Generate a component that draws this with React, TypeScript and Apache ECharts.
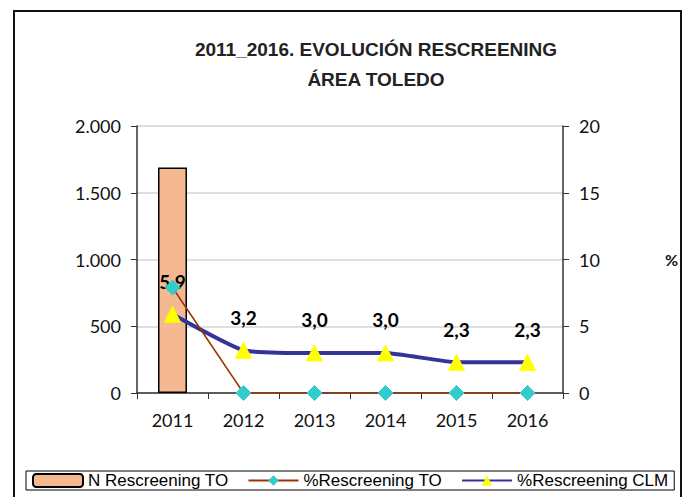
import React, { useEffect, useRef } from "react";
import * as echarts from "echarts";

const years = ["2011", "2012", "2013", "2014", "2015", "2016"];
const nRescreeningTO = [1690, null, null, null, null, null];
const pctRescreeningTO = [7.9, 0, 0, 0, 0, 0];
const pctRescreeningCLM = [5.9, 3.2, 3.0, 3.0, 2.3, 2.3];
const leftTicks = { min: 0, max: 2000, interval: 500 };
const rightTicks = { min: 0, max: 20, interval: 5 };

const labelFont = "Lato, 'Noto Sans', sans-serif";
const arialFont = "'Liberation Sans Narrow', 'Liberation Sans', Arial, sans-serif";

export default function App() {
  const ref = useRef<HTMLDivElement>(null);
  useEffect(() => {
    if (!ref.current) return;
    const chart = echarts.init(ref.current, null, { renderer: "svg" });
    chart.setOption({
      animation: false,
      backgroundColor: "#ffffff",
      title: {
        text: "2011_2016. EVOLUCIÓN RESCREENING\nÁREA TOLEDO",
        left: 371,
        textAlign: "center",
        top: 29,
        textStyle: {
          fontFamily: arialFont,
          fontWeight: "bold",
          fontSize: 19,
          lineHeight: 30,
          color: "#222",
        },
      },
      graphic: [
        {
          type: "rect",
          shape: { x: 14, y: 11, width: 667, height: 500 },
          style: { fill: "none", stroke: "#111", lineWidth: 2 },
          silent: true,
        },
      ],
      legend: {
        data: ["N Rescreening TO", "%Rescreening TO", "%Rescreening CLM"],
        left: 26,
        top: 471,
        itemWidth: 50,
        itemHeight: 13,
        itemGap: 19,
        padding: [1, 6, 1, 6],
        borderColor: "#000",
        borderWidth: 1,
        textStyle: { fontFamily: arialFont, fontSize: 17, color: "#000" },
      },
      grid: { left: 137, right: 134, top: 126, bottom: 104, containLabel: false },
      xAxis: {
        type: "category",
        data: years,
        boundaryGap: true,
        axisLine: { lineStyle: { color: "#333", width: 1.5 } },
        axisTick: { show: true, length: 6, lineStyle: { color: "#333" } },
        axisLabel: { fontFamily: labelFont, fontSize: 18, color: "#111", margin: 18 },
      },
      yAxis: [
        {
          type: "value",
          ...leftTicks,
          position: "left",
          axisLine: { show: true, lineStyle: { color: "#333", width: 1.5 } },
          axisTick: { show: true, length: 6, lineStyle: { color: "#333" } },
          splitLine: { show: true, lineStyle: { color: "#d4d4d4", width: 1.5 } },
          axisLabel: {
            fontFamily: labelFont,
            fontSize: 18,
            color: "#111",
            margin: 16,
            formatter: (v: number) => v.toLocaleString("de-DE"),
          },
        },
        {
          type: "value",
          ...rightTicks,
          position: "right",
          name: "%",
          nameLocation: "middle",
          nameRotate: 0,
          nameGap: 102,
          nameTextStyle: { fontFamily: labelFont, fontSize: 16, fontWeight: "bold", color: "#111", padding: [8, 0, 0, 0] },
          axisLine: { show: true, lineStyle: { color: "#333", width: 1.5 } },
          axisTick: { show: true, length: 6, lineStyle: { color: "#333" } },
          splitLine: { show: false },
          axisLabel: { fontFamily: labelFont, fontSize: 18, color: "#111", margin: 16 },
        },
      ],
      series: [
        {
          name: "N Rescreening TO",
          type: "bar",
          yAxisIndex: 0,
          data: nRescreeningTO,
          barWidth: 29,
          z: 1,
          itemStyle: { color: "#F4B990", borderColor: "#000", borderWidth: 1.5 },
        },
        {
          name: "%Rescreening CLM",
          type: "line",
          yAxisIndex: 1,
          data: pctRescreeningCLM,
          smooth: 0.15,
          symbol: "triangle",
          symbolSize: 16,
          z: 3,
          lineStyle: { color: "#333399", width: 4 },
          itemStyle: { color: "#FFFF00", borderColor: "#FFFF00" },
          label: {
            show: true,
            position: "top",
            distance: 15,
            fontFamily: labelFont,
            fontSize: 19,
            fontWeight: "bold",
            color: "#000",
            formatter: (p: any) => Number(p.value).toFixed(1).replace(".", ","),
          },
        },
        {
          name: "%Rescreening TO",
          type: "line",
          yAxisIndex: 1,
          data: pctRescreeningTO,
          symbol: "diamond",
          symbolSize: 15,
          z: 4,
          lineStyle: { color: "#993300", width: 1.5 },
          itemStyle: { color: "#33CCCC", borderColor: "#33CCCC" },
        },
      ],
    });
    return () => chart.dispose();
  }, []);
  return <div ref={ref} style={{ width: 697, height: 497, position: "absolute", left: 0, top: 0 }} />;
}
